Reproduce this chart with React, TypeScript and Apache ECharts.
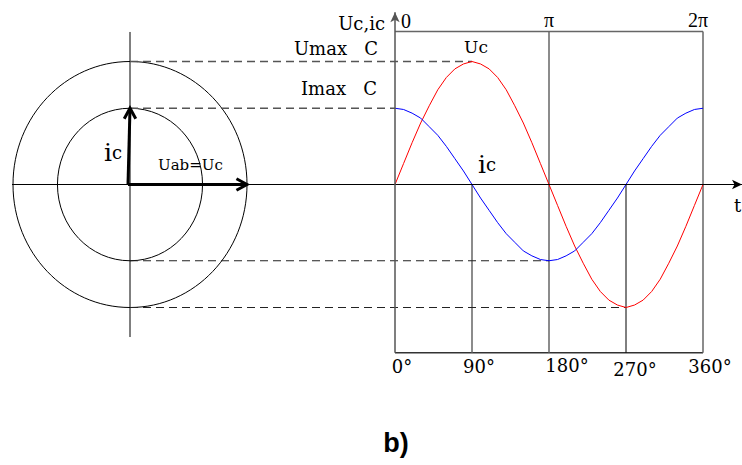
import React, { useEffect, useRef } from "react";
import * as echarts from "echarts";

// ---- data ----
const angles = [0, 10, 20, 30, 40, 50, 60, 70, 80, 90, 100, 110, 120, 130, 140, 150, 160, 170, 180,
  190, 200, 210, 220, 230, 240, 250, 260, 270, 280, 290, 300, 310, 320, 330, 340, 350, 360];
const ucValues = [0, 0.17, 0.34, 0.5, 0.64, 0.77, 0.87, 0.94, 0.98, 1, 0.98, 0.94, 0.87, 0.77, 0.64, 0.5, 0.34, 0.17, 0,
  -0.17, -0.34, -0.5, -0.64, -0.77, -0.87, -0.94, -0.98, -1, -0.98, -0.94, -0.87, -0.77, -0.64, -0.5, -0.34, -0.17, 0];
const icValues = [0.62, 0.61, 0.58, 0.54, 0.47, 0.4, 0.31, 0.21, 0.11, 0, -0.11, -0.21, -0.31, -0.4, -0.47, -0.54, -0.58, -0.61, -0.62,
  -0.61, -0.58, -0.54, -0.47, -0.4, -0.31, -0.21, -0.11, 0, 0.11, 0.21, 0.31, 0.4, 0.47, 0.54, 0.58, 0.61, 0.62];
const degTicks = [0, 90, 180, 270, 360];
const degTickLabels = ["0°", "90°", "180°", "270°", "360°"];
const radTicks = [0, 180, 360];
const radTickLabels = ["0", "π", "2π"];
const U_MAX = 1;
const I_MAX = 0.62;
const circleRadii = [U_MAX, I_MAX];
const phasors = [
  [U_MAX, 0],
  [0, I_MAX],
];

// ---- layout constants ----
const PXD = 308 / 360; // px per degree
const X0PX = 395;
const XMIN = (12 - X0PX) / PXD;
const XMAX = (742 - X0PX) / PXD;
const XLEFT = (130 - X0PX) / PXD;
const UNIT = 123; // px per unit (y)
const Y0PX = 184.5;
const YMAX = 1.4;
const YMIN = -1.367;
const BOX_TOP = 1.244;
const degNudge = [[7, 13.5], [7, 13.5], [18, 12.5], [9, 16.5], [7, 13.5]];
const radNudge = [[11, -10], [0, -11.5], [-5, -11.5]];

const FONT = '"DejaVu Serif", "Liberation Serif", serif';
const FONT_TIMES = '"Liberation Serif", "DejaVu Serif", serif';

function seg(points: number[][], color: string, width: number, type: any = "solid", gi = 0) {
  return {
    type: "line",
    xAxisIndex: gi,
    yAxisIndex: gi,
    data: points,
    showSymbol: false,
    symbol: "none",
    silent: true,
    clip: false,
    lineStyle: { color, width, type },
    z: 3,
  };
}

function peakAngle(vals: number[], sign: number) {
  let best = 0;
  for (let i = 1; i < vals.length; i++) if (vals[i] * sign > vals[best] * sign) best = i;
  return angles[best];
}

export default function App() {
  const ref = useRef<HTMLDivElement>(null);
  useEffect(() => {
    document.body.style.margin = "0";
    const chart = echarts.init(ref.current!, null, { renderer: "svg" });
    const dashStyle = [8, 5];
    const tickLabelStyle = {
      show: true, position: "inside", fontFamily: FONT, fontSize: 18, color: "#000", opacity: 1,
      textBorderWidth: 0,
    };
    const option: any = {
      animation: false,
      backgroundColor: "#fff",
      grid: [
        { left: 12, top: Y0PX - YMAX * UNIT, width: 730, height: (YMAX - YMIN) * UNIT },
        { left: 13, top: Y0PX - 1.25 * UNIT, width: 234, height: 2.5 * UNIT },
      ],
      xAxis: [
        { gridIndex: 0, type: "value", min: XMIN, max: XMAX, show: false },
        { gridIndex: 1, type: "value", min: -1, max: 1, show: false },
      ],
      yAxis: [
        { gridIndex: 0, type: "value", min: YMIN, max: YMAX, show: false },
        { gridIndex: 1, type: "value", min: -1.25, max: 1.25, show: false },
      ],
      series: [
        // left diagram: circles
        {
          type: "custom",
          xAxisIndex: 1,
          yAxisIndex: 1,
          silent: true,
          clip: false,
          data: circleRadii.map((r) => [r, r]),
          renderItem: (_p: any, api: any) => {
            const r = api.value(0);
            const c = api.coord([0, 0]);
            const s = api.size([r, r]);
            return {
              type: "ellipse",
              shape: { cx: c[0], cy: c[1], rx: s[0], ry: s[1] },
              style: { fill: "none", stroke: "#000", lineWidth: 1 },
            };
          },
          z: 2,
        },
        seg([[0, -1.24], [0, 1.24]], "#000", 1, "solid", 1),
        // phasor arrows
        {
          type: "custom",
          xAxisIndex: 1,
          yAxisIndex: 1,
          silent: true,
          clip: false,
          data: phasors,
          renderItem: (_p: any, api: any) => {
            const s = api.coord([0, 0]);
            const e = api.coord([api.value(0), api.value(1)]);
            const a = Math.atan2(e[1] - s[1], e[0] - s[0]);
            const L = 12;
            const sp = 0.5;
            const p1 = [e[0] - L * Math.cos(a - sp), e[1] - L * Math.sin(a - sp)];
            const p2 = [e[0] - L * Math.cos(a + sp), e[1] - L * Math.sin(a + sp)];
            const st = { stroke: "#000", lineWidth: 3, fill: "none" };
            return {
              type: "group",
              children: [
                { type: "line", shape: { x1: s[0] - 2, y1: s[1], x2: e[0], y2: e[1] }, style: st },
                { type: "polyline", shape: { points: [p1, e, p2] }, style: st },
              ],
            };
          },
          z: 5,
        },
        // right plot frame
        seg([[0, BOX_TOP], [360, BOX_TOP]], "#666", 1.5),
        seg([[0, YMIN], [360, YMIN]], "#333", 1.5),
        seg([[180, YMIN], [180, BOX_TOP]], "#666", 1.5),
        seg([[360, YMIN], [360, BOX_TOP]], "#666", 1.5),
        seg([[90, YMIN], [90, 0]], "#666", 1.5),
        seg([[270, YMIN], [270, 0]], "#000", 1),
        // dashed projection lines
        seg([[XLEFT, U_MAX], [peakAngle(ucValues, 1), U_MAX]], "#555", 1.3, dashStyle),
        seg([[XLEFT, I_MAX], [peakAngle(icValues, 1), I_MAX]], "#555", 1.3, dashStyle),
        seg([[XLEFT, -I_MAX], [peakAngle(icValues, -1), -I_MAX]], "#222", 1.2, dashStyle),
        seg([[XLEFT, -U_MAX], [peakAngle(ucValues, -1), -U_MAX]], "#222", 1.2, dashStyle),
        // axes with arrows
        {
          type: "line",
          data: [],
          silent: true,
          clip: false,
          markLine: {
            silent: true,
            symbol: ["none", "arrow"],
            symbolSize: [7, 10],
            label: { show: false },
            emphasis: { disabled: true },
            lineStyle: { type: "solid", color: "#000", width: 1 },
            data: [
              [{ coord: [XMIN, 0] }, { coord: [XMAX, 0] }],
              [{ coord: [0, YMIN], lineStyle: { color: "#555", width: 1.5 } }, { coord: [0, YMAX] }],
            ],
          },
        },
        // curves
        {
          type: "line",
          name: "Uc",
          data: angles.map((a, i) => [a, ucValues[i]]),
          showSymbol: false,
          symbol: "none",
          clip: false,
          lineStyle: { color: "#ff0000", width: 1 },
          z: 4,
        },
        {
          type: "line",
          name: "ic",
          data: angles.map((a, i) => [a, icValues[i]]),
          showSymbol: false,
          symbol: "none",
          clip: false,
          lineStyle: { color: "#0000ff", width: 1 },
          z: 4,
        },
        // tick labels
        {
          type: "scatter",
          symbolSize: 1,
          itemStyle: { color: "transparent", opacity: 1 },
          silent: true,
          data: degTicks.map((t, i) => ({
            value: [t, YMIN],
            label: { formatter: degTickLabels[i], offset: degNudge[i] },
          })),
          label: tickLabelStyle,
        },
        {
          type: "scatter",
          symbolSize: 1,
          itemStyle: { color: "transparent", opacity: 1 },
          silent: true,
          data: radTicks.map((t, i) => ({
            value: [t, BOX_TOP],
            label: { formatter: radTickLabels[i], offset: radNudge[i] },
          })),
          label: { ...tickLabelStyle, fontFamily: FONT_TIMES, fontSize: 20 },
        },
      ],
      graphic: [
        { type: "text", style: { text: "Uc,ic", x: 385, y: 23, textAlign: "right", textVerticalAlign: "middle", font: `18px ${FONT}`, fill: "#000" } },
        { type: "text", style: { text: "Umax   C", x: 378, y: 48, textAlign: "right", textVerticalAlign: "middle", font: `18px ${FONT}`, fill: "#000" } },
        { type: "text", style: { text: "Imax   C", x: 377, y: 88, textAlign: "right", textVerticalAlign: "middle", font: `18px ${FONT}`, fill: "#000" } },
        { type: "text", style: { text: "Uc", x: 476, y: 47, textAlign: "center", textVerticalAlign: "middle", font: `17px ${FONT}`, fill: "#000" } },
        {
          type: "text",
          style: {
            text: "{a|i}{b|c}", x: 478, y: 164, textAlign: "left", textVerticalAlign: "middle",
            rich: { a: { fontFamily: FONT, fontSize: 25, fill: "#000" }, b: { fontFamily: FONT, fontSize: 18, fill: "#000" } },
          },
        },
        {
          type: "text",
          style: {
            text: "{a|i}{b|c}", x: 104, y: 152, textAlign: "left", textVerticalAlign: "middle",
            rich: { a: { fontFamily: FONT, fontSize: 25, fill: "#000" }, b: { fontFamily: FONT, fontSize: 18, fill: "#000" } },
          },
        },
        { type: "text", style: { text: "Uab=Uc", x: 158, y: 165, textAlign: "left", textVerticalAlign: "middle", font: `15px ${FONT}`, fill: "#000" } },
        { type: "text", style: { text: "t", x: 734, y: 205, textAlign: "left", textVerticalAlign: "middle", font: `18px ${FONT}`, fill: "#000" } },
        { type: "text", style: { text: "b)", x: 396, y: 443, textAlign: "center", textVerticalAlign: "middle", font: `bold 27px "Liberation Sans", Arial, sans-serif`, fill: "#000" } },
      ],
    };
    chart.setOption(option);
    return () => chart.dispose();
  }, []);
  return <div ref={ref} style={{ width: 742, height: 465, position: "absolute", left: 0, top: 0 }} />;
}
